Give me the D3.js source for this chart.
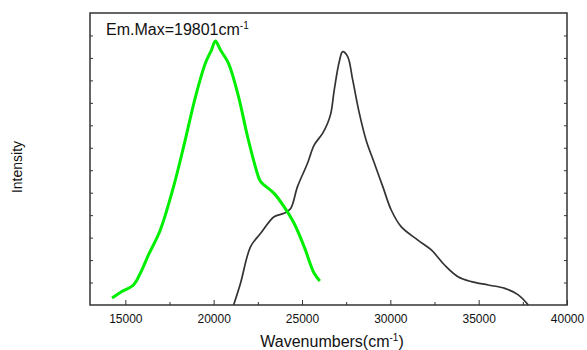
<!DOCTYPE html>
<html>
<head>
<meta charset="utf-8">
<script src="https://cdn.jsdelivr.net/npm/d3@7"></script>
<style>
  body { margin: 0; background: #fff; }
  svg { display: block; font-family: 'Liberation Sans', Arial, sans-serif; }
</style>
</head>
<body>
<div id="chart"></div>
<script>
// Emission spectrum (green), wavenumber in cm-1, relative intensity
const emissionWave = [14250, 14800, 15460, 15900, 16310, 16980, 17730, 18300, 18970, 19530, 19875, 20100, 20386, 20840, 21410, 21920, 22470, 22660, 23420, 23980, 24550, 25120, 25690, 26010];
const emissionInt = [0.31, 0.6, 0.89, 1.5, 2.23, 3.34, 5.27, 7.05, 9.27, 10.76, 11.35, 11.75, 11.35, 10.76, 9.27, 7.49, 5.86, 5.49, 4.97, 4.38, 3.64, 2.6, 1.41, 1.07];

// Excitation spectrum (dark grey)
const excitationWave = [21130, 21520, 22090, 22660, 23420, 23980, 24360, 24745, 25313, 25688, 26165, 26449, 26636, 26824, 27108, 27301, 27585, 27869, 28244, 28625, 29097, 29574, 30050, 30610, 31560, 32320, 33070, 33830, 34590, 35540, 36480, 37240, 37810];
const excitationInt = [0, 0.97, 2.6, 3.19, 3.93, 4.08, 4.3, 5.27, 6.31, 7.12, 7.64, 8.09, 8.54, 9.57, 10.83, 11.28, 11.06, 10.02, 8.54, 7.35, 6.31, 5.27, 4.23, 3.49, 2.89, 2.45, 1.78, 1.26, 1.04, 0.89, 0.74, 0.45, 0];

const xTicks = [15000, 20000, 25000, 30000, 35000, 40000];
const xMinorTicks = [17500, 22500, 27500, 32500, 37500];

const totalWidth = 587;
const totalHeight = 350;
const margin = { top: 13, right: 20, bottom: 45, left: 90 };
const width = totalWidth - margin.left - margin.right;
const height = totalHeight - margin.top - margin.bottom;

const xScale = d3.scaleLinear().domain([13000, 40000]).range([0, width]);
const yScale = d3.scaleLinear().domain([0, 13]).range([height, 0]);

const svg = d3.select('#chart')
  .append('svg')
  .attr('width', totalWidth)
  .attr('height', totalHeight)
  .append('g')
  .attr('transform', `translate(${margin.left}, ${margin.top})`);

const axisColor = '#333';
const textColor = '#111';

// minor x ticks (inward)
svg.append('g')
  .attr('transform', `translate(0, ${height})`)
  .call(d3.axisBottom(xScale).tickValues(xMinorTicks).tickSizeInner(-3).tickSizeOuter(0).tickFormat(''))
  .call((g) => g.select('.domain').remove())
  .call((g) => g.selectAll('line').attr('stroke', axisColor));

// major x ticks with labels
svg.append('g')
  .attr('transform', `translate(0, ${height})`)
  .call(d3.axisBottom(xScale).tickValues(xTicks).tickSizeInner(-5).tickSizeOuter(0).tickPadding(9).tickFormat(d3.format('d')))
  .call((g) => g.select('.domain').remove())
  .call((g) => g.selectAll('line').attr('stroke', axisColor))
  .call((g) => g.selectAll('text')
    .attr('font-size', 12)
    .attr('fill', textColor)
    .attr('font-family', "'Liberation Sans', Arial, sans-serif"));

// y ticks on left and right, no labels
const yTicks = d3.range(1, 13);
svg.append('g')
  .call(d3.axisLeft(yScale).tickValues(yTicks).tickSizeInner(-3).tickSizeOuter(0).tickFormat(''))
  .call((g) => g.select('.domain').remove())
  .call((g) => g.selectAll('line').attr('stroke', axisColor));

svg.append('g')
  .attr('transform', `translate(${width}, 0)`)
  .call(d3.axisRight(yScale).tickValues(yTicks).tickSizeInner(-3).tickSizeOuter(0).tickFormat(''))
  .call((g) => g.select('.domain').remove())
  .call((g) => g.selectAll('line').attr('stroke', axisColor));

// frame
svg.append('rect')
  .attr('x', 0)
  .attr('y', 0)
  .attr('width', width)
  .attr('height', height)
  .attr('fill', 'none')
  .attr('stroke', axisColor)
  .attr('stroke-width', 1.5);

const line = d3.line()
  .x((d) => xScale(d[0]))
  .y((d) => yScale(d[1]))
  .curve(d3.curveCatmullRom.alpha(0.5));

// excitation curve
svg.append('path')
  .datum(excitationWave.map((w, i) => [w, excitationInt[i]]))
  .attr('fill', 'none')
  .attr('stroke', '#333')
  .attr('stroke-width', 1.7)
  .attr('d', line);

// emission curve
svg.append('path')
  .datum(emissionWave.map((w, i) => [w, emissionInt[i]]))
  .attr('fill', 'none')
  .attr('stroke', '#00ee00')
  .attr('stroke-width', 3)
  .attr('d', line);

// annotation
const note = svg.append('text')
  .attr('x', 16)
  .attr('y', 22)
  .attr('font-size', 16)
  .attr('fill', textColor)
  .text('Em.Max=19801cm');
note.append('tspan')
  .attr('dy', -6)
  .attr('font-size', 10)
  .text('-1');

// x axis label
const xLabel = svg.append('text')
  .attr('x', xScale(26700))
  .attr('y', height + 42)
  .attr('text-anchor', 'middle')
  .attr('font-size', 16)
  .attr('fill', textColor)
  .text('Wavenumbers(cm');
xLabel.append('tspan').attr('dy', -6).attr('font-size', 10).text('-1');
xLabel.append('tspan').attr('dy', 6).text(')');

// y axis label
svg.append('text')
  .attr('transform', `translate(${-68}, ${167 - margin.top}) rotate(-90)`)
  .attr('text-anchor', 'middle')
  .attr('font-size', 14)
  .attr('fill', textColor)
  .text('Intensity');
</script>
</body>
</html>
